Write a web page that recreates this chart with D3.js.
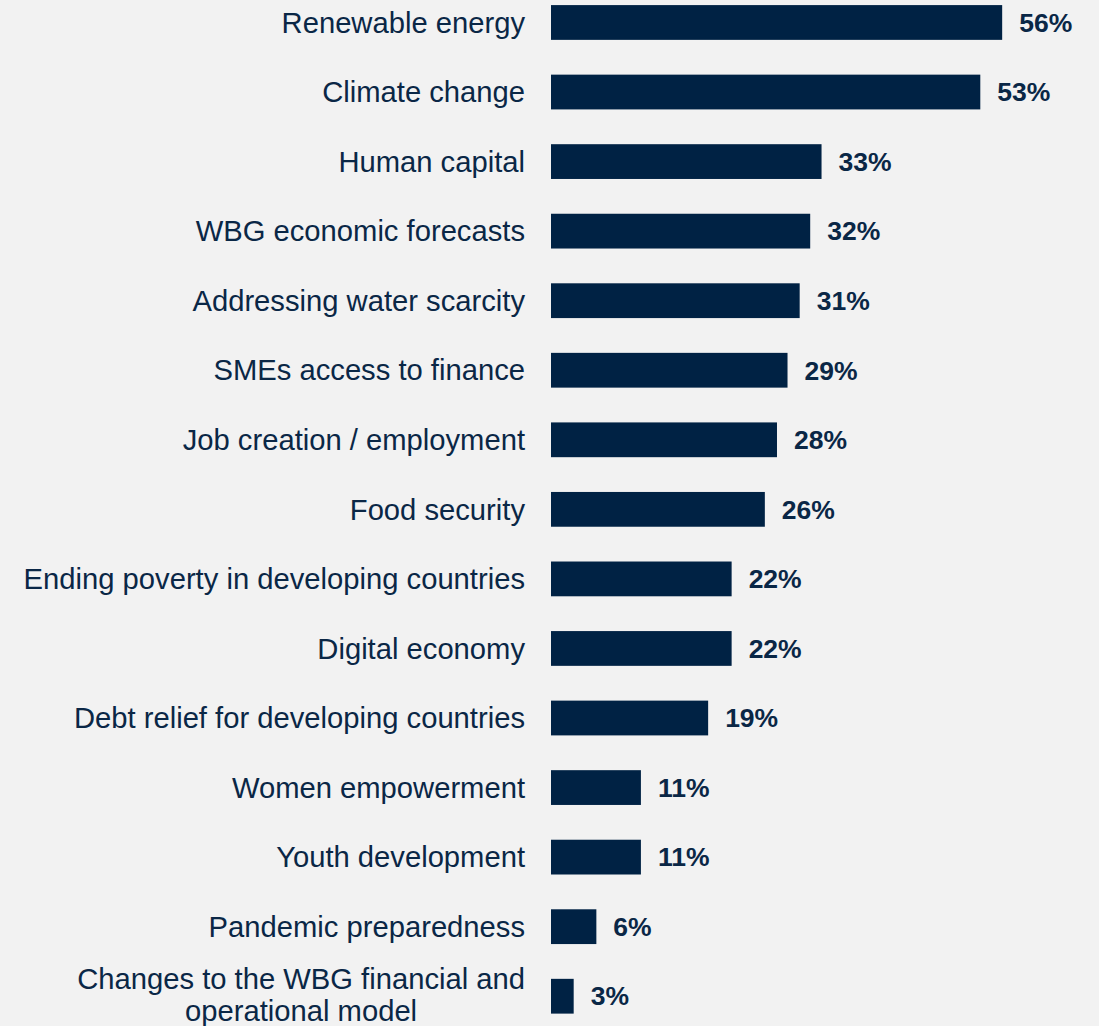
<!DOCTYPE html>
<html>
<head>
<meta charset="utf-8">
<script src="https://cdn.jsdelivr.net/npm/d3@7"></script>
<style>
  html, body { margin: 0; padding: 0; background: #f2f2f2; }
  svg { display: block; }
</style>
</head>
<body>
<svg id="chart" width="1099" height="1026"></svg>
<script>
const categories = [
  "Renewable energy",
  "Climate change",
  "Human capital",
  "WBG economic forecasts",
  "Addressing water scarcity",
  "SMEs access to finance",
  "Job creation / employment",
  "Food security",
  "Ending poverty in developing countries",
  "Digital economy",
  "Debt relief for developing countries",
  "Women empowerment",
  "Youth development",
  "Pandemic preparedness",
  "Changes to the WBG financial and operational model"
];
const values = [55.7, 53.0, 33.4, 32.0, 30.7, 29.2, 27.9, 26.4, 22.3, 22.3, 19.4, 11.1, 11.1, 5.6, 2.8];
const valueLabels = ["56%", "53%", "33%", "32%", "31%", "29%", "28%", "26%", "22%", "22%", "19%", "11%", "11%", "6%", "3%"];

const data = categories.map((c, i) => ({ cat: c, value: values[i], label: valueLabels[i] }));

const svg = d3.select("#chart");
const W = 1099, H = 1026;
const x0 = 551;
const pxPerPct = 8.1;

const x = d3.scaleLinear().domain([0, 60]).range([x0, x0 + 60 * pxPerPct]);
const y = d3.scaleBand()
  .domain(categories)
  .range([-12.3, 1031])
  .paddingInner(0.5)
  .paddingOuter(0.25);

const barColor = "#002244";
const textColor = "#0a2746";
const fontFam = "'Liberation Sans', Arial, sans-serif";

svg.append("rect").attr("width", W).attr("height", H).attr("fill", "#f2f2f2");

svg.append("g").selectAll("rect")
  .data(data)
  .join("rect")
  .attr("x", x(0))
  .attr("y", d => y(d.cat))
  .attr("width", d => x(d.value) - x(0))
  .attr("height", y.bandwidth())
  .attr("fill", barColor);

svg.append("g").selectAll("text")
  .data(data)
  .join("text")
  .attr("x", d => x(d.value) + 17)
  .attr("y", d => y(d.cat) + y.bandwidth() / 2)
  .attr("dy", "0.35em")
  .attr("font-family", fontFam)
  .attr("font-size", 26.5)
  .attr("font-weight", "bold")
  .attr("fill", textColor)
  .text(d => d.label);

// category labels with wrapping
const labelRight = 525;
const maxWidth = 510;
const lineHeight = 31.5;
const labelG = svg.append("g")
  .attr("font-family", fontFam)
  .attr("font-size", 29.2)
  .attr("fill", textColor);

data.forEach(d => {
  const cy = y(d.cat) + y.bandwidth() / 2;
  const t = labelG.append("text").attr("text-anchor", "end");
  const words = d.cat.split(" ");
  const lines = [];
  let cur = [];
  const probe = t.append("tspan");
  words.forEach(w => {
    const test = cur.concat([w]).join(" ");
    probe.text(test);
    if (probe.node().getComputedTextLength() > maxWidth && cur.length) {
      lines.push(cur.join(" "));
      cur = [w];
    } else {
      cur.push(w);
    }
  });
  lines.push(cur.join(" "));
  probe.remove();
  if (lines.length === 1) {
    t.attr("x", labelRight).attr("y", cy).attr("dy", "0.35em").text(lines[0]);
  } else {
    const widths = lines.map(l => {
      const s = t.append("tspan").text(l);
      const w = s.node().getComputedTextLength();
      s.remove();
      return w;
    });
    const maxW = d3.max(widths);
    const cx = labelRight - maxW / 2;
    t.attr("text-anchor", "middle");
    const startY = cy - 1.5 - (lines.length - 1) * lineHeight / 2;
    lines.forEach((l, i) => {
      t.append("tspan")
        .attr("x", cx)
        .attr("y", startY + i * lineHeight)
        .attr("dy", "0.35em")
        .text(l);
    });
  }
});
</script>
</body>
</html>
